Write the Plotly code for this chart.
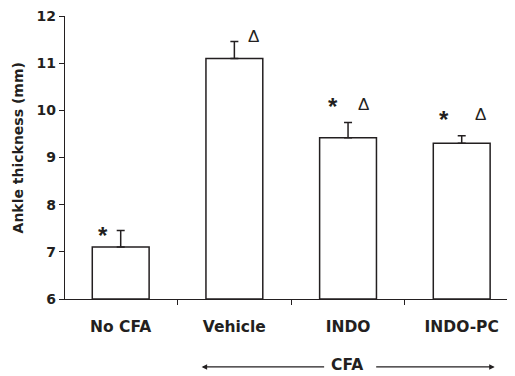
import plotly.graph_objects as go

categories = ["No CFA", "Vehicle", "INDO", "INDO-PC"]
values = [7.1, 11.1, 9.42, 9.3]
errors = [0.35, 0.36, 0.32, 0.16]
y_ticks = [6, 7, 8, 9, 10, 11, 12]

INK = "#231f20"
FONT = "DejaVu Sans, Liberation Sans, Arial, sans-serif"
SYMFONT = "Liberation Sans, Arial, sans-serif"

x = list(range(len(categories)))

fig = go.Figure()
fig.add_trace(go.Bar(
    x=x, y=[v - 6 for v in values], base=6,
    width=0.5,
    marker=dict(color="white", line=dict(color=INK, width=1.5)),
    error_y=dict(type="data", array=errors, arrayminus=[0]*4, symmetric=False,
                 color=INK, thickness=1.5, width=4),
    showlegend=False,
))

annotations = []
def sym(txt, i, dx, dy, yshift):
    star = txt == "*"
    annotations.append(dict(x=i + dx, y=values[i] + errors[i] + dy, xref="x", yref="y", text=txt,
                            showarrow=False, yanchor="middle", yshift=yshift,
                            font=dict(family=SYMFONT, size=24 if star else 17, color=INK,
                                      weight="bold" if star else "normal")))

sym("*", 0, -0.160, -0.05, -3)
sym("Δ", 1, 0.170, 0.11, 0)
sym("*", 2, -0.135, 0.41, -3)
sym("Δ", 2, 0.136, 0.39, 0)
sym("*", 3, -0.160, 0.40, -3)
sym("Δ", 3, 0.165, 0.46, 0)

# y-axis title (placed as annotation so it can sit slightly above centre, as in the source)
annotations.append(dict(x=0, y=0.532, xref="paper", yref="paper", xshift=-47,
                        text="<b>Ankle thickness (mm)</b>", textangle=-90, showarrow=False,
                        xanchor="center", yanchor="middle",
                        font=dict(family=FONT, size=14, color=INK)))

# CFA bracket
annotations.append(dict(x=1.99, y=-0.232, xref="x", yref="paper", text="<b>CFA</b>",
                        showarrow=False, yanchor="middle",
                        font=dict(family=FONT, size=15.5, color=INK)))
annotations.append(dict(x=0.712, y=-0.240, xref="x", yref="paper", text="",
                        showarrow=True, arrowhead=2, arrowsize=1, arrowwidth=1.1,
                        arrowcolor=INK, ax=124, ay=0, axref="pixel", ayref="pixel"))
annotations.append(dict(x=3.29, y=-0.240, xref="x", yref="paper", text="",
                        showarrow=True, arrowhead=2, arrowsize=1, arrowwidth=1.1,
                        arrowcolor=INK, ax=-120, ay=0, axref="pixel", ayref="pixel"))

fig.update_layout(
    width=507, height=368,
    margin=dict(l=57, r=1, t=8, b=77),
    plot_bgcolor="white", paper_bgcolor="white",
    font=dict(family=FONT, color=INK, size=14),
    annotations=annotations,
    xaxis=dict(
        range=[-0.49, 3.46],
        tickmode="array", tickvals=x, ticktext=[f"<b>{c}</b>" for c in categories],
        ticks="", showline=True, linecolor=INK, linewidth=1.3,
        showgrid=False, zeroline=False, ticklabelstandoff=13,
        tickfont=dict(size=15.5, family=FONT, color=INK),
        minor=dict(tickmode="array", tickvals=[0.5, 1.5, 2.5], ticks="outside",
                   ticklen=5, tickcolor=INK, tickwidth=1.3),
    ),
    yaxis=dict(
        range=[6, 12],
        tickmode="array", tickvals=y_ticks, ticktext=[f"<b>{t}</b>" for t in y_ticks],
        ticks="outside", ticklen=5, tickcolor=INK, tickwidth=1.3,
        showline=True, linecolor=INK, linewidth=1.3,
        showgrid=False, zeroline=False, ticklabeloverflow="allow",
        tickfont=dict(size=14, family=FONT, color=INK),
    ),
)

fig.write_html("out.html")
